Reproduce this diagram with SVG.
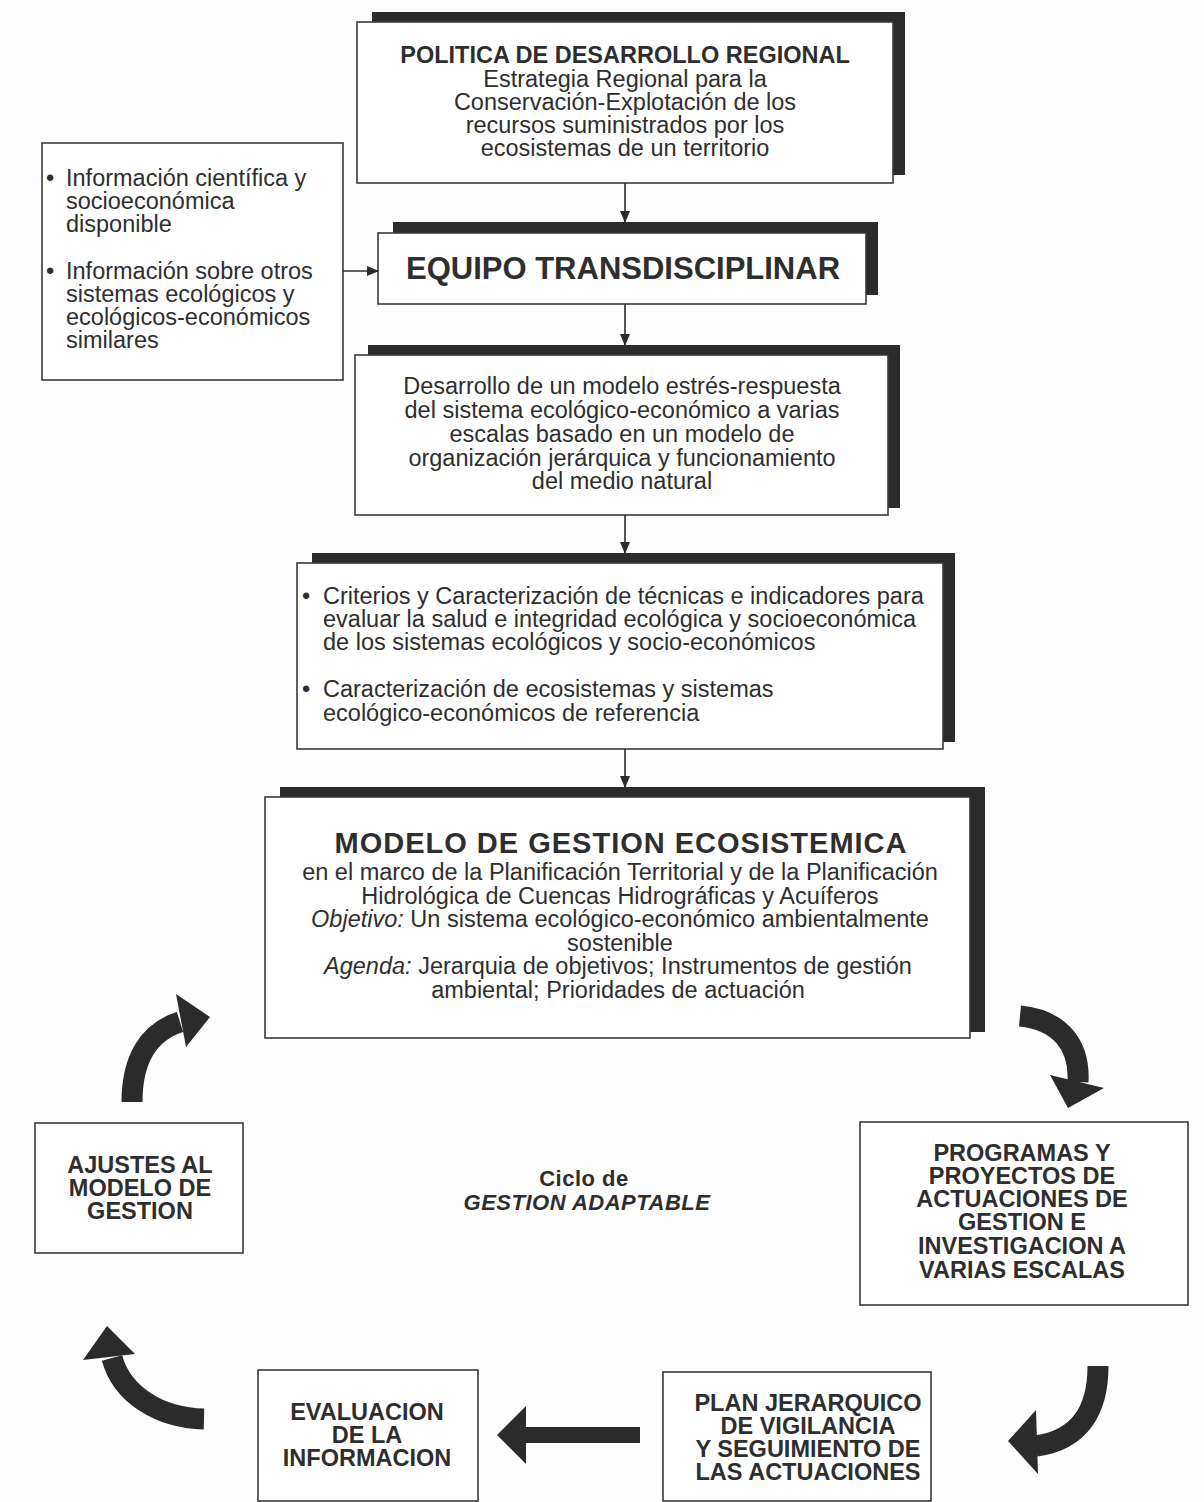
<svg xmlns="http://www.w3.org/2000/svg" width="1204" height="1502" viewBox="0 0 1204 1502">
  <defs>
    <marker id="tip" markerWidth="12" markerHeight="10" refX="11" refY="5" orient="auto" markerUnits="userSpaceOnUse">
      <path d="M0,0 L12,5 L0,10 Z" fill="#2b2b2b"/>
    </marker>
    <style>
      .box { fill: #fff; stroke: #3a3a3a; stroke-width: 1.6; }
      .shadow { fill: #2b2b2b; }
      .txt { font-family: "Liberation Sans", Arial, sans-serif; fill: #2e2e2e; font-size: 23.5px; }
      .c { text-anchor: middle; }
      .b { font-weight: bold; }
      .i { font-style: italic; }
      .t31 { font-size: 31px; }
      .t30 { font-size: 29px; letter-spacing: 1px; }
      .t22 { font-size: 22px; letter-spacing: 0.5px; }
      .conn { stroke: #2b2b2b; stroke-width: 1.6; fill: none; }
      .fat { stroke: #2b2b2b; fill: none; stroke-width: 21; }
      .head { fill: #2b2b2b; }
    </style>
  </defs>
  <rect width="1204" height="1502" fill="#fdfdfd"/>

  <!-- regional policy -->
  <g id="politica">
    <rect class="shadow" x="372" y="12" width="533" height="163"/>
    <rect class="box" x="357" y="22" width="536" height="161"/>
    <text class="txt c b" x="625" y="63">POLITICA DE DESARROLLO REGIONAL</text>
    <text class="txt c" x="625" y="87">Estrategia Regional para la</text>
    <text class="txt c" x="625" y="110">Conservación-Explotación de los</text>
    <text class="txt c" x="625" y="133">recursos suministrados por los</text>
    <text class="txt c" x="625" y="156">ecosistemas de un territorio</text>
  </g>

  <!-- input information -->
  <g id="informacion">
    <rect class="box" x="42" y="143" width="301" height="237"/>
    <text class="txt" x="46" y="186">•</text>
    <text class="txt" x="66" y="186">Información científica y</text>
    <text class="txt" x="66" y="209">socioeconómica</text>
    <text class="txt" x="66" y="232">disponible</text>
    <text class="txt" x="46" y="279">•</text>
    <text class="txt" x="66" y="279">Información sobre otros</text>
    <text class="txt" x="66" y="302">sistemas ecológicos y</text>
    <text class="txt" x="66" y="325">ecológicos-económicos</text>
    <text class="txt" x="66" y="348">similares</text>
  </g>

  <!-- team -->
  <g id="equipo">
    <rect class="shadow" x="393" y="222" width="485" height="73"/>
    <rect class="box" x="378" y="233" width="488" height="71"/>
    <text class="txt c b t31" x="623" y="279">EQUIPO TRANSDISCIPLINAR</text>
  </g>

  <!-- stress-response model -->
  <g id="desarrollo">
    <rect class="shadow" x="368" y="345" width="532" height="163"/>
    <rect class="box" x="355" y="355" width="533" height="160"/>
    <text class="txt c" x="622" y="394">Desarrollo de un modelo estrés-respuesta</text>
    <text class="txt c" x="622" y="418">del sistema ecológico-económico a varias</text>
    <text class="txt c" x="622" y="442">escalas basado en un modelo de</text>
    <text class="txt c" x="622" y="466">organización jerárquica y funcionamiento</text>
    <text class="txt c" x="622" y="489">del medio natural</text>
  </g>

  <!-- criteria -->
  <g id="criterios">
    <rect class="shadow" x="312" y="553" width="643" height="189"/>
    <rect class="box" x="297" y="563" width="646" height="186"/>
    <text class="txt" x="302" y="604">•</text>
    <text class="txt" x="323" y="604">Criterios y Caracterización de técnicas e indicadores para</text>
    <text class="txt" x="323" y="627">evaluar la salud e integridad ecológica y socioeconómica</text>
    <text class="txt" x="323" y="650">de los sistemas ecológicos y socio-económicos</text>
    <text class="txt" x="302" y="697">•</text>
    <text class="txt" x="323" y="697">Caracterización de ecosistemas y sistemas</text>
    <text class="txt" x="323" y="721">ecológico-económicos de referencia</text>
  </g>

  <!-- ecosystem management model -->
  <g id="modelo">
    <rect class="shadow" x="280" y="787" width="705" height="245"/>
    <rect class="box" x="265" y="797" width="705" height="241"/>
    <text class="txt c b t30" x="621" y="853">MODELO DE GESTION ECOSISTEMICA</text>
    <text class="txt c" x="620" y="880">en el marco de la Planificación Territorial y de la Planificación</text>
    <text class="txt c" x="620" y="903.5">Hidrológica de Cuencas Hidrográficas y Acuíferos</text>
    <text class="txt c" x="620" y="927"><tspan class="i">Objetivo:</tspan> Un sistema ecológico-económico ambientalmente</text>
    <text class="txt c" x="620" y="950.5">sostenible</text>
    <text class="txt c" x="618" y="974"><tspan class="i">Agenda:</tspan> Jerarquia de objetivos; Instrumentos de gestión</text>
    <text class="txt c" x="618" y="997.5">ambiental; Prioridades de actuación</text>
  </g>

  <!-- adaptive cycle -->
  <g id="ajustes">
    <rect class="box" x="35" y="1123" width="208" height="130"/>
    <text class="txt c b" x="140" y="1173">AJUSTES AL</text>
    <text class="txt c b" x="140" y="1196">MODELO DE</text>
    <text class="txt c b" x="140" y="1219">GESTION</text>
  </g>

  <g id="ciclo">
    <text class="txt c b t22" x="584" y="1186">Ciclo de</text>
    <text class="txt c b i t22" x="587" y="1210">GESTION ADAPTABLE</text>
  </g>

  <g id="programas">
    <rect class="box" x="860" y="1122" width="328" height="183"/>
    <text class="txt c b" x="1022" y="1161">PROGRAMAS Y</text>
    <text class="txt c b" x="1022" y="1184">PROYECTOS DE</text>
    <text class="txt c b" x="1022" y="1207">ACTUACIONES DE</text>
    <text class="txt c b" x="1022" y="1230">GESTION E</text>
    <text class="txt c b" x="1022" y="1254">INVESTIGACION A</text>
    <text class="txt c b" x="1022" y="1278">VARIAS ESCALAS</text>
  </g>

  <g id="evaluacion">
    <rect class="box" x="258" y="1370" width="220" height="131"/>
    <text class="txt c b" x="367" y="1420">EVALUACION</text>
    <text class="txt c b" x="367" y="1443">DE LA</text>
    <text class="txt c b" x="367" y="1466">INFORMACION</text>
  </g>

  <g id="plan">
    <rect class="box" x="663" y="1372" width="268" height="129"/>
    <text class="txt c b" x="808" y="1411">PLAN JERARQUICO</text>
    <text class="txt c b" x="808" y="1434">DE VIGILANCIA</text>
    <text class="txt c b" x="808" y="1457">Y SEGUIMIENTO DE</text>
    <text class="txt c b" x="808" y="1480">LAS ACTUACIONES</text>
  </g>

  <!-- connectors -->
  <g id="connectors">
    <line class="conn" x1="625" y1="183" x2="625" y2="222" marker-end="url(#tip)"/>
    <line class="conn" x1="343" y1="271" x2="378" y2="271" marker-end="url(#tip)"/>
    <line class="conn" x1="625" y1="304" x2="625" y2="345" marker-end="url(#tip)"/>
    <line class="conn" x1="625" y1="515" x2="625" y2="553" marker-end="url(#tip)"/>
    <line class="conn" x1="625" y1="749" x2="625" y2="787" marker-end="url(#tip)"/>

    <!-- cycle arrows -->
    <path class="fat" d="M1020,1016 C1060,1020 1080,1045 1078,1082"/>
    <polygon class="head" points="1050,1075 1104,1088 1068,1108"/>

    <path class="fat" d="M1098,1366 C1098,1410 1080,1440 1036,1446"/>
    <polygon class="head" points="1036,1410 1038,1474 1008,1441"/>

    <path d="M640,1427 L526,1427 L526,1406 L497,1435 L526,1464 L526,1443 L640,1443 Z" class="head"/>

    <path class="fat" d="M204,1419 C160,1418 122,1395 112,1358"/>
    <polygon class="head" points="83,1360 107,1326 135,1354"/>

    <path class="fat" d="M132,1102 C132,1060 148,1032 180,1022"/>
    <polygon class="head" points="176,994 210,1017 186,1047"/>
  </g>
</svg>
